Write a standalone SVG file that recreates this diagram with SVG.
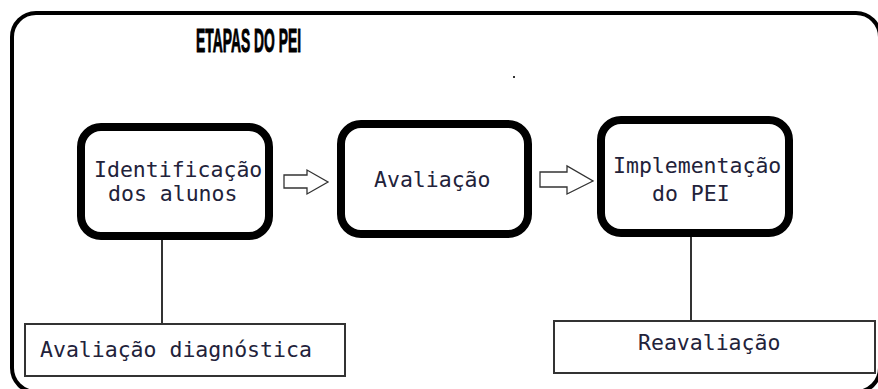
<svg xmlns="http://www.w3.org/2000/svg" width="878" height="389" viewBox="0 0 878 389">
<style>
.step{fill:#fff;stroke:#000;stroke-width:8}
.sub{fill:#fff;stroke:#333;stroke-width:2}
.t{font-family:"DejaVu Sans Mono","Liberation Mono",monospace;font-size:21.5px;fill:#22223a}
.link{stroke:#333;stroke-width:2;fill:none}
.arr{fill:#fff;stroke:#333;stroke-width:1.3;stroke-linejoin:miter}
</style>
<rect width="878" height="389" fill="#fff"/>
<rect id="frame" x="12" y="13" width="868" height="379" rx="24" fill="none" stroke="#000" stroke-width="4"/>
<text x="196" y="52" font-family="Liberation Sans, Arial, sans-serif" font-weight="bold" font-size="34" textLength="105" lengthAdjust="spacingAndGlyphs" fill="#000" stroke="#000" stroke-width="1">ETAPAS DO PEI</text>
<rect x="513" y="76" width="2" height="2" fill="#333"/>
<g id="connectors">
<line class="link" x1="162" y1="240" x2="162" y2="324"/>
<line class="link" x1="691" y1="237" x2="691" y2="321"/>
<polygon class="arr" points="284,175 307,175 307,170 328,182 307,194 307,188 284,188"/>
<polygon class="arr" points="540,172 567,172 567,166 593,181 567,194 567,187 540,187"/>
</g>
<g id="identificacao">
<rect class="step" x="81" y="127" width="188" height="109" rx="20"/>
<text class="t" x="94" y="177">Identificação</text>
<text class="t" x="108" y="201">dos alunos</text>
</g>
<g id="avaliacao">
<rect class="step" x="341" y="124" width="187" height="110" rx="20"/>
<text class="t" x="374" y="187">Avaliação</text>
</g>
<g id="implementacao">
<rect class="step" x="601" y="120" width="188" height="113" rx="20"/>
<text class="t" x="613" y="173">Implementação</text>
<text class="t" x="652" y="201">do PEI</text>
</g>
<g id="diagnostica">
<rect class="sub" x="25" y="324" width="320" height="52"/>
<text class="t" x="40" y="357">Avaliação diagnóstica</text>
</g>
<g id="reavaliacao">
<rect class="sub" x="554" y="321" width="321" height="52"/>
<text class="t" x="638" y="350">Reavaliação</text>
</g>
</svg>
